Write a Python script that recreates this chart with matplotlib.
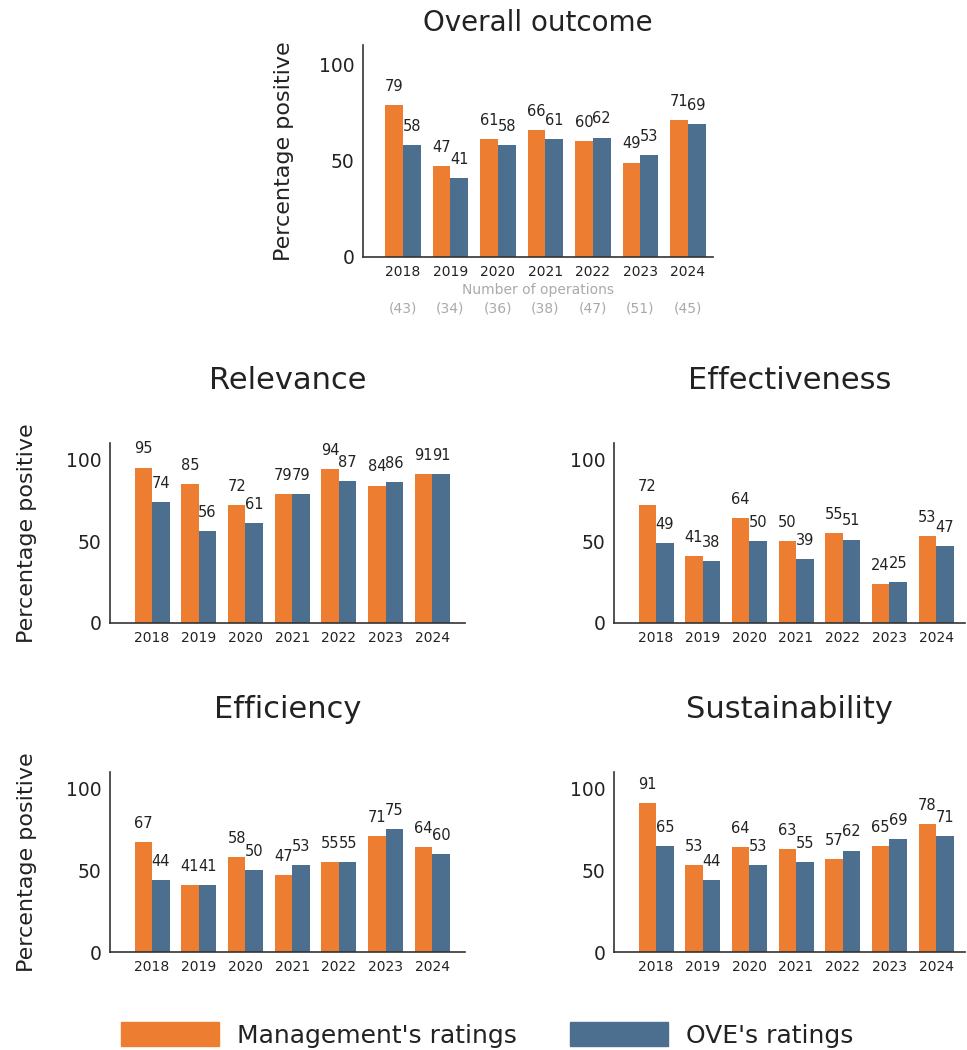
import numpy as np
import matplotlib.pyplot as plt
from matplotlib.patches import Patch

plt.rcParams['font.family'] = ['DejaVu Sans']

years = ["2018", "2019", "2020", "2021", "2022", "2023", "2024"]
n_ops = ["(43)", "(34)", "(36)", "(38)", "(47)", "(51)", "(45)"]

overall_mgmt = [79, 47, 61, 66, 60, 49, 71]
overall_ove = [58, 41, 58, 61, 62, 53, 69]

relevance_mgmt = [95, 85, 72, 79, 94, 84, 91]
relevance_ove = [74, 56, 61, 79, 87, 86, 91]

effect_mgmt = [72, 41, 64, 50, 55, 24, 53]
effect_ove = [49, 38, 50, 39, 51, 25, 47]

effic_mgmt = [67, 41, 58, 47, 55, 71, 64]
effic_ove = [44, 41, 50, 53, 55, 75, 60]

sustain_mgmt = [91, 53, 64, 63, 57, 65, 78]
sustain_ove = [65, 44, 53, 55, 62, 69, 71]

orange = "#ED7D31"
blue = "#4D6F8F"
ink = "#222222"

W, H = 967, 1050
fig = plt.figure(figsize=(W / 100, H / 100), dpi=100)


def px_axes(left, right, bottom, top):
    # axes from pixel edges
    return fig.add_axes([left / W, 1 - bottom / H, (right - left) / W, (bottom - top) / H])


def bars(ax, mgmt, ove, xlim, title, title_size, title_pad, ylabel_pad=None):
    x = np.arange(len(years))
    w = 0.375
    b1 = ax.bar(x - w / 2, mgmt, w, color=orange)
    b2 = ax.bar(x + w / 2, ove, w, color=blue)
    for rects, vals in ((b1, mgmt), (b2, ove)):
        for r, v in zip(rects, vals):
            ax.annotate(str(v), (r.get_x() + r.get_width() / 2, r.get_height()),
                        xytext=(0, 8), textcoords="offset points",
                        ha="center", va="bottom", fontsize=10.5, color=ink)
    ax.set_xlim(*xlim)
    ax.set_ylim(0, 110)
    ax.set_yticks([0, 50, 100])
    ax.set_xticks(x)
    ax.set_xticklabels(years)
    ax.tick_params(axis="y", length=0, labelsize=13.5, labelcolor=ink, pad=6)
    ax.tick_params(axis="x", length=0, labelsize=10, labelcolor=ink, pad=6)
    for s in ("top", "right"):
        ax.spines[s].set_visible(False)
    for s in ("left", "bottom"):
        ax.spines[s].set_color("#333333")
        ax.spines[s].set_linewidth(1.2)
    if ylabel_pad is not None:
        ax.set_ylabel("Percentage positive", fontsize=16, color=ink, labelpad=ylabel_pad)
    ax.set_title(title, fontsize=title_size, color=ink, pad=title_pad)


# overall outcome, with operation counts under the years
ax0 = px_axes(363, 713, 257, 45)
bars(ax0, overall_mgmt, overall_ove, (-0.84, 6.53), "Overall outcome", 20, 10, ylabel_pad=18)
ax0.text(0.5, -0.155, "Number of operations", transform=ax0.transAxes,
         ha="center", va="center", fontsize=10, color="#AAAAAA")
for i, n in enumerate(n_ops):
    ax0.text(i, -0.245, n, transform=ax0.get_xaxis_transform(),
             ha="center", va="center", fontsize=10, color="#AAAAAA")

ax1 = px_axes(110, 465, 623, 443)
bars(ax1, relevance_mgmt, relevance_ove, (-0.9, 6.7), "Relevance", 22, 39, ylabel_pad=21)
ax2 = px_axes(614, 965, 623, 443)
bars(ax2, effect_mgmt, effect_ove, (-0.9, 6.62), "Effectiveness", 22, 39)
ax3 = px_axes(110, 465, 952, 772)
bars(ax3, effic_mgmt, effic_ove, (-0.9, 6.7), "Efficiency", 22, 39, ylabel_pad=21)
ax4 = px_axes(614, 965, 952, 772)
bars(ax4, sustain_mgmt, sustain_ove, (-0.9, 6.62), "Sustainability", 22, 39)

handles = [Patch(color=orange, label="Management's ratings"),
           Patch(color=blue, label="OVE's ratings")]
fig.legend(handles=handles, loc="center", bbox_to_anchor=(0.504, 0.0143), ncol=2,
           frameon=False, fontsize=18, handlelength=3.9, handleheight=1.05,
           handletextpad=0.72, columnspacing=2.15, labelcolor=ink)

fig.savefig("out.png", dpi=100)
